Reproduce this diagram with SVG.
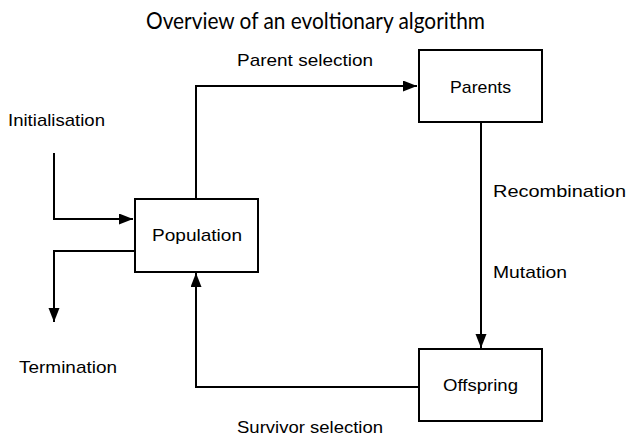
<svg xmlns="http://www.w3.org/2000/svg" width="629" height="437" viewBox="0 0 629 437">
<style>
.box{fill:#fff;stroke:#000;stroke-width:2}
.lbl{font-family:"Liberation Sans",Arial,sans-serif;font-size:17px;fill:#000}
.title{font-family:Lato,"DejaVu Sans",sans-serif;font-size:24px;fill:#000}
.edge{fill:none;stroke:#000;stroke-width:2}
</style>
<defs>
<marker id="arr" markerUnits="userSpaceOnUse" markerWidth="15" markerHeight="12" refX="14" refY="5.5" orient="auto">
<path d="M0,0 L14,5.5 L0,11 z" fill="#000"/>
</marker>
</defs>
<rect width="629" height="437" fill="#fff"/>
<text class="title" x="146" y="29" textLength="339" lengthAdjust="spacingAndGlyphs">Overview of an evoltionary algorithm</text>
<g id="connectors">
<path class="edge" d="M54,153 V219 H133" marker-end="url(#arr)"/>
<path class="edge" d="M134,251 H54 V322" marker-end="url(#arr)"/>
<path class="edge" d="M196,199 V86 H417" marker-end="url(#arr)"/>
<path class="edge" d="M481,122 V348" marker-end="url(#arr)"/>
<path class="edge" d="M418,387 H196 V273" marker-end="url(#arr)"/>
</g>
<g id="labels">
<text class="lbl" x="8" y="126" textLength="97" lengthAdjust="spacingAndGlyphs">Initialisation</text>
<text class="lbl" x="237" y="66" textLength="136" lengthAdjust="spacingAndGlyphs">Parent selection</text>
<text class="lbl" x="493" y="197" textLength="133" lengthAdjust="spacingAndGlyphs">Recombination</text>
<text class="lbl" x="493" y="278" textLength="74" lengthAdjust="spacingAndGlyphs">Mutation</text>
<text class="lbl" x="19" y="373" textLength="98" lengthAdjust="spacingAndGlyphs">Termination</text>
<text class="lbl" x="237" y="433" textLength="146" lengthAdjust="spacingAndGlyphs">Survivor selection</text>
</g>
<g id="population">
<rect class="box" x="135" y="199" width="123" height="73"/>
<text class="lbl" x="152" y="241" textLength="90" lengthAdjust="spacingAndGlyphs">Population</text>
</g>
<g id="parents">
<rect class="box" x="419" y="50" width="123" height="72"/>
<text class="lbl" x="450" y="93" textLength="61" lengthAdjust="spacingAndGlyphs">Parents</text>
</g>
<g id="offspring">
<rect class="box" x="419" y="349" width="123" height="72"/>
<text class="lbl" x="443" y="391" textLength="75" lengthAdjust="spacingAndGlyphs">Offspring</text>
</g>
</svg>
